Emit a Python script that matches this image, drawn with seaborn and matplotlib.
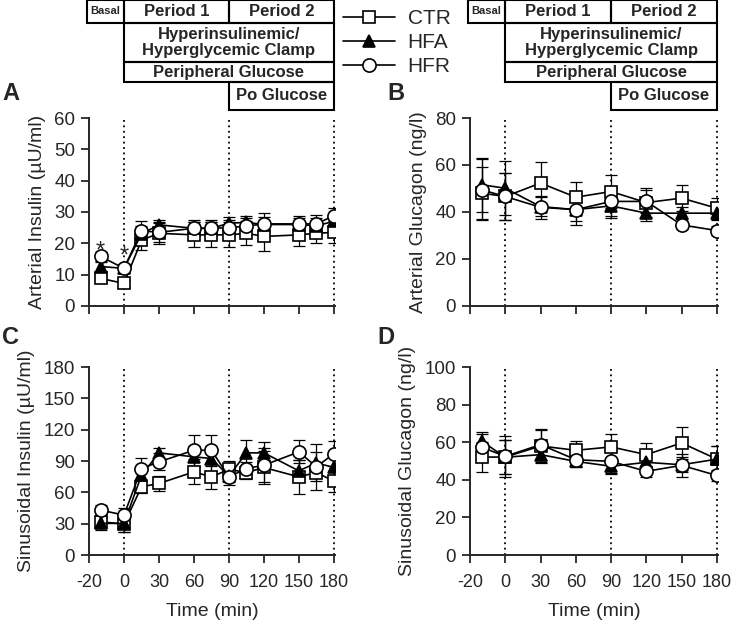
"""
Arterial / sinusoidal insulin and glucagon during the clamp (CTR vs HFA vs HFR).
"""

import numpy as np
import pandas as pd
import matplotlib.pyplot as plt
import matplotlib.transforms as mtransforms
from matplotlib.lines import Line2D
from matplotlib.patches import Rectangle
import seaborn as sns

GROUPS = ["CTR", "HFA", "HFR"]

# time points (plotted on a linear scale; "-20" tick sits at -30)
T_INS = [-20, 0, 15, 30, 60, 75, 90, 105, 120, 150, 165, 180]
T_GLU = [-20, 0, 30, 60, 90, 120, 150, 180]
X_TICKS = [-30, 0, 30, 60, 90, 120, 150, 180]
X_TICKLABELS = ["-20", "0", "30", "60", "90", "120", "150", "180"]

# A - arterial insulin (uU/ml)
art_ins_ctr = [8.8, 7.2, 21.0, 23.2, 22.7, 22.7, 22.7, 23.2, 22.2, 22.7, 23.2, 23.5]
art_ins_hfa = [12.6, 12.0, 23.0, 25.9, 24.8, 24.8, 26.4, 26.7, 26.0, 26.0, 25.6, 27.0]
art_ins_hfr = [15.8, 12.0, 24.0, 23.5, 24.8, 24.8, 25.0, 25.5, 26.2, 26.2, 26.2, 28.8]
art_ins_ctr_se = [1.2, 1.2, 3.0, 3.5, 4.0, 4.0, 4.0, 3.8, 4.5, 3.5, 3.0, 3.5]
art_ins_hfa_se = [1.5, 1.5, 2.5, 1.5, 2.0, 2.0, 2.0, 2.0, 2.5, 2.0, 2.5, 2.5]
art_ins_hfr_se = [1.5, 1.5, 3.0, 3.0, 2.5, 2.5, 2.5, 2.5, 3.5, 2.5, 3.0, 2.5]

# B - arterial glucagon (ng/l)
art_glu_ctr = [48.0, 46.6, 52.3, 46.3, 48.7, 44.0, 45.9, 41.6]
art_glu_hfa = [51.6, 50.1, 42.3, 41.0, 42.6, 39.5, 39.5, 39.5]
art_glu_hfr = [49.4, 46.6, 42.0, 41.0, 44.5, 44.5, 34.5, 32.1]
art_glu_ctr_se = [11.0, 10.0, 8.8, 6.5, 7.0, 6.0, 5.5, 4.5]
art_glu_hfa_se = [11.5, 11.5, 4.0, 5.0, 5.0, 3.5, 2.5, 3.0]
art_glu_hfr_se = [13.0, 10.0, 5.0, 6.5, 6.0, 5.0, 1.8, 1.8]

# C - sinusoidal insulin (uU/ml)
sin_ins_ctr = [31.8, 29.6, 65.3, 68.5, 79.6, 74.8, 82.0, 79.0, 83.8, 74.8, 79.0, 70.7]
sin_ins_hfa = [30.3, 30.3, 76.4, 97.8, 94.0, 92.4, 75.5, 97.8, 97.8, 80.6, 88.2, 83.8]
sin_ins_hfr = [43.0, 38.2, 82.8, 89.2, 100.3, 100.3, 74.8, 82.8, 86.0, 98.7, 84.4, 97.1]
sin_ins_ctr_se = [5.0, 8.0, 6.0, 7.0, 12.0, 12.0, 8.0, 6.0, 16.0, 16.0, 8.0, 10.0]
sin_ins_hfa_se = [6.0, 8.0, 8.0, 5.0, 10.0, 12.0, 6.0, 12.0, 10.0, 10.0, 10.0, 10.0]
sin_ins_hfr_se = [5.0, 7.0, 10.0, 8.0, 15.0, 15.0, 8.0, 6.0, 16.0, 11.0, 22.0, 12.0]

# D - sinusoidal glucagon (ng/l)
sin_glu_ctr = [52.1, 52.1, 58.0, 55.7, 57.5, 53.4, 59.6, 51.0]
sin_glu_hfa = [60.5, 52.0, 53.4, 49.8, 47.2, 49.3, 48.0, 51.0]
sin_glu_hfr = [57.3, 52.5, 58.7, 50.7, 49.8, 44.5, 47.7, 42.3]
sin_glu_ctr_se = [8.0, 9.0, 9.0, 5.0, 7.0, 6.0, 8.5, 7.0]
sin_glu_hfa_se = [5.0, 9.0, 4.0, 3.0, 4.0, 4.0, 4.0, 7.0]
sin_glu_hfr_se = [7.0, 11.0, 8.0, 4.0, 6.0, 3.0, 6.0, 3.0]

STYLE = {
    "CTR": dict(marker="s", markerfacecolor="white", markersize=8),
    "HFA": dict(marker="^", markerfacecolor="black", markersize=8),
    "HFR": dict(marker="o", markerfacecolor="white", markersize=9.5),
}

PANELS = [
    # letter, times, means, sems, ylim, yticks, ylabel, rect
    ("A", T_INS, [art_ins_ctr, art_ins_hfa, art_ins_hfr],
     [art_ins_ctr_se, art_ins_hfa_se, art_ins_hfr_se],
     60, np.arange(0, 61, 10), "Arterial Insulin (µU/ml)", [0.1218, 0.5112, 0.3365, 0.3003]),
    ("B", T_GLU, [art_glu_ctr, art_glu_hfa, art_glu_hfr],
     [art_glu_ctr_se, art_glu_hfa_se, art_glu_hfr_se],
     80, np.arange(0, 81, 20), "Arterial Glucagon (ng/l)", [0.6430, 0.5112, 0.3393, 0.3003]),
    ("C", T_INS, [sin_ins_ctr, sin_ins_hfa, sin_ins_hfr],
     [sin_ins_ctr_se, sin_ins_hfa_se, sin_ins_hfr_se],
     180, np.arange(0, 181, 30), "Sinusoidal Insulin (µU/ml)", [0.1218, 0.1134, 0.3365, 0.3003]),
    ("D", T_GLU, [sin_glu_ctr, sin_glu_hfa, sin_glu_hfr],
     [sin_glu_ctr_se, sin_glu_hfa_se, sin_glu_hfr_se],
     100, np.arange(0, 101, 20), "Sinusoidal Glucagon (ng/l)", [0.6430, 0.1134, 0.3393, 0.3003]),
]

# header boxes: (x0, x1, top px, bottom px, text, fontsize)
HEADER = [
    (-32, 0, 0, 23, "Basal", 8),
    (0, 90, 0, 23, "Period 1", 12),
    (90, 180, 0, 23, "Period 2", 12),
    (0, 180, 23, 62, "Hyperinsulinemic/\nHyperglycemic Clamp", 12),
    (0, 180, 62, 82, "Peripheral Glucose", 12),
    (90, 180, 82, 110, "Po Glucose", 12),
]

sns.set_style("ticks")
plt.rcParams["font.family"] = ["Liberation Sans", "DejaVu Sans"]

W, H = 731, 626
fig = plt.figure(figsize=(W / 100, H / 100), dpi=100)

axes = {}
for letter, t, means, sems, ymax, yticks, ylabel, rect in PANELS:
    ax = fig.add_axes(rect)
    axes[letter] = ax
    for xv in (0, 90, 180):
        ax.axvline(xv, color="black", ls=(0, (1, 2)), lw=1.3, zorder=1)
    for g, m, s in zip(GROUPS, means, sems):
        ax.errorbar(t, m, yerr=s, fmt="none", ecolor="black", elinewidth=0.9,
                    capsize=4, capthick=0.9, zorder=2)
        df = pd.DataFrame({"time": t, "value": m})
        sns.lineplot(data=df, x="time", y="value", ax=ax, color="black", lw=1.2,
                     markeredgecolor="black", markeredgewidth=1.2, zorder=3,
                     **STYLE[g])
    ax.set_xlim(-30, 181)
    ax.set_ylim(0, ymax)
    ax.set_yticks(yticks)
    ax.set_xticks(X_TICKS)
    if letter in ("C", "D"):
        ax.set_xticklabels(X_TICKLABELS, fontsize=13)
        ax.set_xlabel("Time (min)", fontsize=14, labelpad=8)
    else:
        ax.set_xticklabels([])
        ax.set_xlabel("")
    ax.tick_params(axis="y", labelsize=13.5, pad=4)
    ax.tick_params(axis="x", pad=8)
    ax.tick_params(width=1.3, length=6, direction="out")
    ax.set_ylabel(ylabel, fontsize=14, labelpad=6)
    for sp in ("left", "bottom"):
        ax.spines[sp].set_linewidth(1.4)
    sns.despine(ax=ax)
    for sp in ("left", "bottom"):
        ax.spines[sp].set_clip_on(False)

# significance marks on panel A
axes["A"].text(-20, 15.5, "*", ha="center", va="baseline", fontsize=17)
axes["A"].text(0, 14.0, "*", ha="center", va="baseline", fontsize=17)

# panel letters
for letter, (x, y) in {"A": (2, 94), "B": (387, 94), "C": (2, 338), "D": (377, 338)}.items():
    fig.text(x / W, 1 - y / H, letter, fontsize=17, fontweight="bold", ha="left", va="center")

# protocol boxes above the top panels
for letter in ("A", "B"):
    ax = axes[letter]
    tr = mtransforms.blended_transform_factory(ax.transData, fig.transFigure)
    for x0, x1, ytop, ybot, label, fs in HEADER:
        y0 = 1 - ybot / H
        y1 = 1 - ytop / H
        ax.add_patch(Rectangle((x0, y0), x1 - x0, y1 - y0, transform=tr, fill=False,
                               edgecolor="black", lw=1.5, clip_on=False))
        ax.text((x0 + x1) / 2, (y0 + y1) / 2, label, transform=tr, ha="center",
                va="center", fontsize=fs, fontweight="bold", linespacing=1.15,
                clip_on=False)

# legend between the header blocks
handles = [Line2D([0], [0], color="black", lw=1.2, markeredgecolor="black",
                  markeredgewidth=1.2, **STYLE[g]) for g in GROUPS]
fig.legend(handles, GROUPS, loc="upper left", bbox_to_anchor=(343 / W, 1 - 9 / H),
           frameon=False, fontsize=15, handlelength=2.5, handletextpad=0.6,
           labelspacing=0.25, borderaxespad=0, borderpad=0)

fig.savefig("out.png", dpi=100)
